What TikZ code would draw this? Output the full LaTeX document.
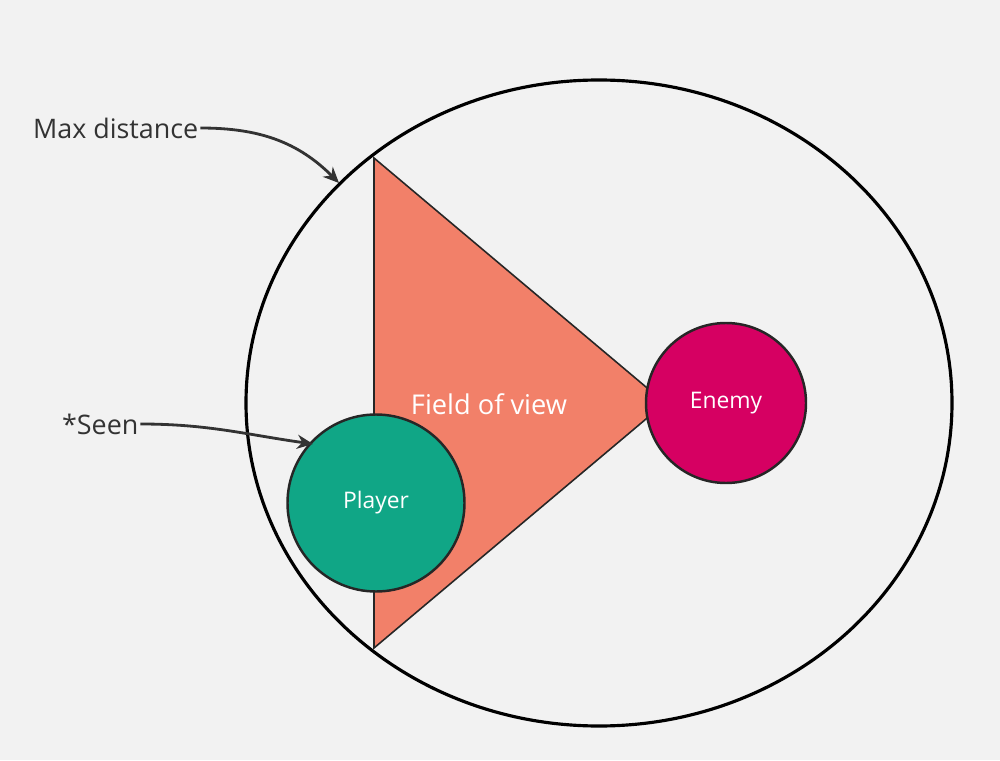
\documentclass[tikz,border=0pt]{standalone}
\usepackage{fontspec}
\setmainfont{Open Sans}
\usetikzlibrary{arrows.meta}
\definecolor{cbg}{RGB}{242,242,242}
\definecolor{cfov}{RGB}{242,128,105}
\definecolor{cenemy}{RGB}{214,0,98}
\definecolor{cplayer}{RGB}{16,166,134}
\definecolor{cink}{RGB}{51,51,51}

\begin{document}
\begin{tikzpicture}[>={Stealth[length=9pt,width=8pt]}]
  \tikzset{
    actor/.style={circle,draw=black!85,line width=1.4pt,text=white,font=\fontsize{13}{15}\selectfont,inner sep=0pt},
    callout/.style={text=cink,font=\fontsize{15.3}{18}\selectfont,inner sep=1pt},
    pointer/.style={->,cink,line width=1.6pt}
  }
  % page
  \fill[cbg] (0,0) rectangle (20,15.2);
  \useasboundingbox (0,0) rectangle (20,15.2);
  % max distance range
  \draw[line width=1.8pt] (11.98,7.14) ellipse [x radius=7.06, y radius=6.46];
  % field of view cone
  \coordinate (fovtop) at (7.48,12.04);
  \coordinate (fovbot) at (7.48,2.24);
  \coordinate (fovtip) at (13.3,7.14);
  \filldraw[fill=cfov,draw=black!85,line width=0.9pt] (fovtop) -- (fovtip) -- (fovbot) -- cycle;
  \node[text=white,font=\fontsize{15.5}{18}\selectfont] (fov) at (9.78,7.12) {Field of view};
  % actors
  \node[actor,fill=cplayer,minimum size=3.54cm] (player) at (7.52,5.14) {Player};
  \node[actor,fill=cenemy,minimum size=3.2cm] (enemy) at (14.52,7.14) {Enemy};
  % callouts
  \node[callout,anchor=west] (maxd) at (0.62,12.64) {Max distance};
  \node[callout,anchor=west] (seen) at (1.2,6.72) {*Seen};
  \coordinate (rim) at (6.78,11.54);
  \coordinate (hit) at (6.26,6.32);
  \draw[pointer] (maxd.east) to[out=0,in=135] (rim);
  \draw[pointer] (seen.east) to[out=0,in=172] (hit);
\end{tikzpicture}
\end{document}
